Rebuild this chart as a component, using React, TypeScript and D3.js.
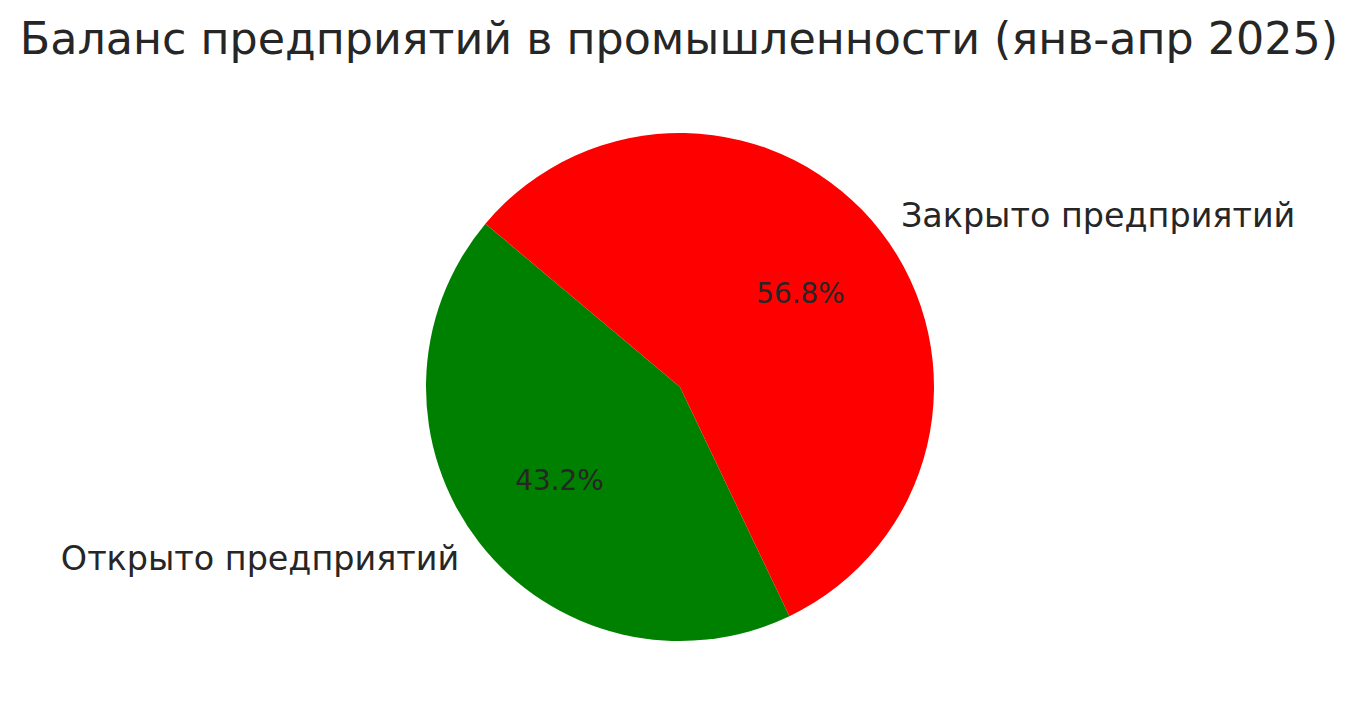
import React from "react";
import * as d3 from "d3";

const categories = ["Открыто предприятий", "Закрыто предприятий"];
const values = [43.2, 56.8];
const colors = ["#008000", "#ff0000"];
const title = "Баланс предприятий в промышленности (янв-апр 2025)";

const W = 1359;
const H = 725;
const cx = 680;
const cy = 387;
const R = 254;
const startAngleDeg = 140;

export default function App() {
  const total = d3.sum(values);
  // matplotlib: counterclockwise from startangle (math angles)
  let acc = startAngleDeg;
  const slices = values.map((v, i) => {
    const span = (v / total) * 360;
    const a0 = acc;
    const a1 = acc + span;
    acc = a1;
    return { i, v, a0, a1, mid: (a0 + a1) / 2 };
  });
  // convert math angle (deg, ccw from +x) to d3 angle (rad, cw from 12 o'clock)
  const toD3 = (deg: number) => ((90 - deg) * Math.PI) / 180;
  const arc = d3.arc<any>().innerRadius(0).outerRadius(R);
  const txt = "#262626";
  const font = "'DejaVu Sans', sans-serif";
  return (
    <svg width={W} height={H} style={{ position: "absolute", left: 0, top: 0, background: "#fff" }}>
      <text x={679} y={54} textAnchor="middle" fontFamily={font} fontSize={44.4} fill={txt}>
        {title}
      </text>
      <g transform={`translate(${cx},${cy})`}>
        {slices.map((s) => (
          <path
            key={s.i}
            d={arc({ startAngle: toD3(s.a1), endAngle: toD3(s.a0) }) as string}
            fill={colors[s.i]}
          />
        ))}
        {slices.map((s) => {
          const rad = (s.mid * Math.PI) / 180;
          const lx = 1.1 * R * Math.cos(rad);
          const ly = -1.1 * R * Math.sin(rad);
          const px = 0.6 * R * Math.cos(rad);
          const py = -0.6 * R * Math.sin(rad);
          return (
            <g key={"t" + s.i}>
              <text
                x={lx}
                y={ly}
                textAnchor={lx < 0 ? "end" : "start"}
                dominantBaseline="central"
                fontFamily={font}
                fontSize={33.4}
                fill={txt}
              >
                {categories[s.i]}
              </text>
              <text
                x={px}
                y={py}
                textAnchor="middle"
                dominantBaseline="central"
                fontFamily={font}
                fontSize={27.9}
                fill={txt}
              >
                {`${((s.v / total) * 100).toFixed(1)}%`}
              </text>
            </g>
          );
        })}
      </g>
    </svg>
  );
}
